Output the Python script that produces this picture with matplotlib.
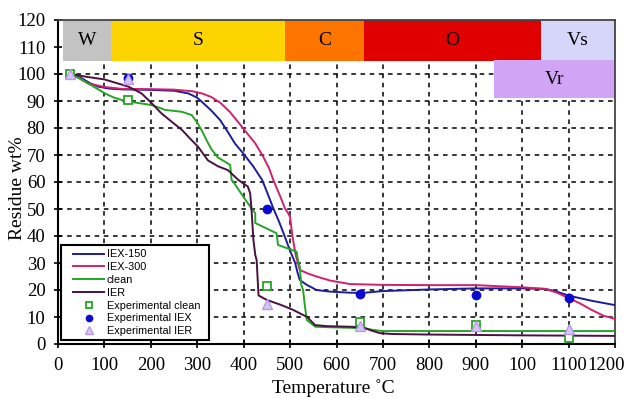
import matplotlib
matplotlib.use('Agg')
import matplotlib.pyplot as plt
import matplotlib.transforms as mtransforms
from matplotlib.patches import Rectangle

# curvas calculadas (temperatura, residuo)
iex150_t = [25, 50, 70, 87, 110, 137, 202, 250, 281, 300, 310, 330, 349, 365, 381, 399, 421, 440, 452, 464, 477, 489, 500, 511, 516, 521, 535, 557, 586, 629, 655, 700, 800, 900, 1000, 1050, 1075, 1100, 1150, 1200]
iex150_r = [100, 98.5, 96.5, 95.3, 94.6, 94.3, 94.1, 93.8, 92.8, 91.2, 89.7, 86.5, 83, 78.8, 74.3, 70.6, 65.7, 60.7, 55.5, 50.2, 45, 39.6, 34.5, 30, 26.5, 23.7, 22, 20, 19.4, 19, 18.9, 19.6, 20.2, 20.6, 20.6, 20.4, 19.4, 17.9, 16, 14.4]

iex300_t = [25, 45, 65, 100, 137, 200, 250, 290, 310, 330, 350, 370, 390, 410, 425, 442, 455, 464, 478, 489, 496, 500, 505, 512, 521, 540, 557, 586, 629, 700, 800, 900, 1000, 1050, 1075, 1100, 1125, 1150, 1175, 1200]
iex300_r = [100, 98.5, 96.5, 95.2, 94.5, 94.4, 94.2, 93.6, 92.8, 91.5, 89.3, 86, 81.8, 77.5, 74.3, 69.4, 65, 60.7, 55, 50.2, 48.4, 47, 40, 33, 27.4, 26, 25, 23.5, 22.2, 21.9, 21.8, 21.8, 21, 20.4, 19, 17, 15, 12.6, 10.5, 9.3]

clean_t = [25, 45, 65, 85, 101, 120, 137, 152, 175, 202, 231, 267, 288, 300, 310, 320, 331, 345, 360, 371, 374, 378, 399, 417, 425, 425, 471, 474, 514, 517, 521, 524, 528, 532, 536, 554, 586, 629, 660, 679, 700, 1200]
clean_r = [100, 98.5, 96.5, 94.5, 92.8, 91.3, 90.4, 89.8, 89.2, 88.5, 86.7, 86, 84.8, 82, 79, 75.5, 72, 69, 67.5, 66.3, 60.7, 60, 54.6, 50.2, 48.4, 44.8, 41, 36.7, 34.2, 31, 28.6, 22, 20, 14, 8.9, 6.4, 6.2, 6, 5.8, 5.2, 4.8, 4.8]

ier_t = [25, 60, 100, 152, 180, 200, 223, 245, 267, 285, 302, 323, 345, 366, 389, 409, 414, 417, 421, 425, 428, 432, 450, 480, 507, 525, 536, 554, 580, 629, 657, 675, 694, 720, 800, 1000, 1200]
ier_r = [100, 99, 98, 95.3, 92.8, 89.5, 85.4, 82.3, 79.3, 76, 73, 68, 65.8, 64.4, 60.7, 58.3, 55.8, 49.6, 38.5, 33, 31, 18, 16.3, 14.5, 12.6, 11, 10.1, 7, 6.6, 6.4, 6.2, 5, 4, 3.7, 3.5, 3.2, 3]

# pontos experimentais
exp_t = [25, 150, 450, 650, 900, 1100]
exp_clean = [100, 90.5, 21.5, 8, 7, 2.3]
exp_iex_t = [150, 450, 650, 900, 1100]
exp_iex = [98.5, 50, 18.5, 18, 17]
exp_ier = [100, 98, 14.7, 6.6, 6.6, 5.5]

# faixas do topo
faixas_nome = ['W', 'S', 'C', 'O', 'Vs', 'Vr']
faixas_ini = [10, 115, 490, 660, 1040, 940]
faixas_fim = [115, 490, 660, 1040, 1200, 1200]
faixas_base = [105, 105, 105, 105, 105, 91]
faixas_topo = [120, 120, 120, 120, 120, 105]
faixas_cor = ['#c3c3c3', '#fdd300', '#fd7400', '#e00000', '#d6d6fb', '#d2a4f5']

x_ticks = list(range(0, 1300, 100))
x_labels = ['0', '100', '200', '300', '400', '500', '600', '700', '800', '900', '100', '1100', '1200']
y_ticks = list(range(0, 130, 10))

c_azul = '#1c1c9c'
c_rosa = '#d3206c'
c_verde = '#25a525'
c_roxo = '#4a1042'

serif = ['Liberation Serif', 'DejaVu Serif']
sans = ['Liberation Sans', 'DejaVu Sans']

fig = plt.figure(figsize=(6.25, 3.98), dpi=100)
ax = fig.add_axes([58 / 625, 54 / 398, 557 / 625, 324 / 398])

# grade tracejada
for x in range(100, 1200, 100):
    ax.plot([x, x], [0, 105], color='black', ls=(0, (3, 3)), lw=1.1, zorder=1)
for y in range(10, 110, 10):
    ax.plot([0, 1200], [y, y], color='black', ls=(0, (3, 3)), lw=1.1, zorder=1)

for i in range(len(faixas_nome)):
    ax.add_patch(Rectangle((faixas_ini[i], faixas_base[i]), faixas_fim[i] - faixas_ini[i],
                           faixas_topo[i] - faixas_base[i], facecolor=faixas_cor[i],
                           edgecolor='none', zorder=2))
    ax.text((faixas_ini[i] + faixas_fim[i]) / 2, (faixas_base[i] + faixas_topo[i]) / 2,
            faixas_nome[i], ha='center', va='center', fontsize=14, family=serif, zorder=3)

ax.plot(iex150_t, iex150_r, color=c_azul, lw=1.4, zorder=4, label='IEX-150')
ax.plot(iex300_t, iex300_r, color=c_rosa, lw=1.4, zorder=4, label='IEX-300')
ax.plot(clean_t, clean_r, color=c_verde, lw=1.4, zorder=4, label='clean')
ax.plot(ier_t, ier_r, color=c_roxo, lw=1.4, zorder=4, label='IER')

ax.plot(exp_t, exp_clean, ls='none', marker='s', ms=6, mfc='white', mec=c_verde, mew=1.3,
        zorder=5, label='Experimental clean')
ax.plot(exp_iex_t, exp_iex, ls='none', marker='o', ms=6, color='#0a0ad0', zorder=5,
        label='Experimental IEX')
ax.plot(exp_t, exp_ier, ls='none', marker='^', ms=7, mfc='#d6c4f6', mec='#b89ae8', mew=1,
        zorder=6, label='Experimental IER')

ax.set_xlim(0, 1200)
ax.set_ylim(0, 120)
ax.set_xticks(x_ticks)
ax.set_xticklabels(x_labels)
ax.set_yticks(y_ticks)
ax.tick_params(direction='inout', length=6, width=1.2, labelsize=13.5, pad=6)
for lbl in ax.get_xticklabels() + ax.get_yticklabels():
    lbl.set_family(serif)
# o ultimo rotulo fica um pouco para dentro, como no original
ultimo = ax.get_xticklabels()[-1]
ultimo.set_transform(ultimo.get_transform() +
                     mtransforms.ScaledTranslation(-9 / 100, 0, fig.dpi_scale_trans))
ax.tick_params(top=False, right=False)
for s in ['left', 'bottom']:
    ax.spines[s].set_linewidth(1.5)
ax.spines['right'].set_color('#444444')
ax.spines['top'].set_color('#444444')
ax.spines['right'].set_linewidth(1.3)
ax.spines['top'].set_linewidth(1.3)

# moldura da legenda (mais folga dos lados que em cima/baixo)
ax.add_patch(Rectangle((0.0054, 0.0123), 0.266, 0.293, transform=ax.transAxes,
                       facecolor='white', edgecolor='black', lw=1.5, zorder=7))
leg = ax.legend(loc='lower left', bbox_to_anchor=(0.027, 0.024), borderaxespad=0,
                prop={'family': sans, 'size': 7.8}, handlelength=2.9, handletextpad=0.2,
                markerscale=0.75, frameon=False, labelspacing=0.26, borderpad=0)
leg.set_zorder(8)

fig.text(18 / 625, 1 - 188 / 398, 'Residue wt%', rotation=90, ha='center', va='center',
         fontsize=14, family=serif)
fig.text(333 / 625, 1 - 379 / 398, 'Temperature ˚C', ha='center', va='top',
         fontsize=14, family=serif)

fig.savefig('out.png', dpi=100)
